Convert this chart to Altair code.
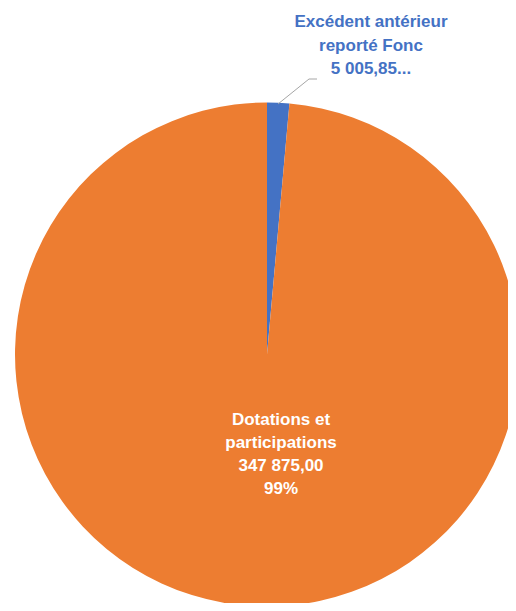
import altair as alt
import pandas as pd

categories = ["Excédent antérieur reporté Fonc", "Dotations et participations"]
values = [5005.85, 347875.00]
order_idx = [0, 1]
label_texts = [
    ["Excédent antérieur", "reporté Fonc", "5 005,85..."],
    ["Dotations et", "participations", " 347 875,00", "99%"],
]
colors = ["#4472C4", "#ED7D31"]

W, H = 500, 595
CX, CY, R = 259, 346.5, 252

df = pd.DataFrame({"cat": categories, "val": values, "idx": order_idx})

color_scale = alt.Scale(domain=categories, range=colors)

shadow = alt.Chart(pd.DataFrame({"val": [1]})).mark_arc(
    radius=R + 1.5, color="#cfcfcf", opacity=0.6
).encode(
    theta=alt.Theta("val:Q"),
    x=alt.value(CX - 0.5),
    y=alt.value(CY + 2),
)

pie = alt.Chart(df).mark_arc(radius=R, strokeWidth=0).encode(
    theta=alt.Theta("val:Q", stack=True),
    color=alt.Color("cat:N", scale=color_scale, legend=None),
    order=alt.Order("idx:Q"),
    x=alt.value(CX),
    y=alt.value(CY),
)

lab_df = pd.DataFrame({
    "cat": categories,
    "txt": ["\n".join(t) for t in label_texts],
})

top_label = alt.Chart(lab_df).transform_filter(
    alt.datum.cat == categories[0]
).mark_text(
    font="Liberation Sans", fontWeight="bold", fontSize=17,
    color="#4472C4", lineBreak="\n", lineHeight=23.5,
    align="center", baseline="middle",
).encode(
    text="txt:N", x=alt.value(363), y=alt.value(14),
)

inner_label = alt.Chart(lab_df).transform_filter(
    alt.datum.cat == categories[1]
).mark_text(
    font="Liberation Sans", fontWeight="bold", fontSize=17,
    color="white", lineBreak="\n", lineHeight=23,
    align="center", baseline="middle",
).encode(
    text="txt:N", x=alt.value(273), y=alt.value(412),
)

leader1 = alt.Chart(pd.DataFrame({"a": [0]})).mark_rule(
    color="#A6A6A6", strokeWidth=1
).encode(x=alt.value(270), y=alt.value(96), x2=alt.value(301), y2=alt.value(71))

leader2 = alt.Chart(pd.DataFrame({"a": [0]})).mark_rule(
    color="#A6A6A6", strokeWidth=1
).encode(x=alt.value(301), y=alt.value(71), x2=alt.value(309), y2=alt.value(71))

chart = alt.layer(shadow, pie, leader1, leader2, top_label, inner_label).properties(
    width=W, height=H, padding=0,
    autosize=alt.AutoSizeParams(type="none"),
).configure_view(stroke=None)

chart.save("out.html", embed_options={"renderer": "svg", "actions": False})
